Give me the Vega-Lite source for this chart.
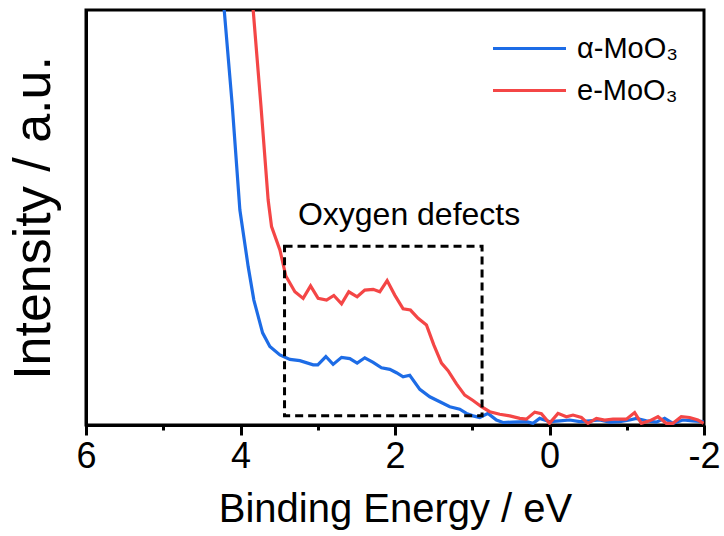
{
  "$schema": "https://vega.github.io/schema/vega-lite/v6.json",
  "width": 618,
  "height": 415,
  "autosize": {"type": "none"},
  "padding": {"left": 86, "top": 10, "right": 20, "bottom": 111},
  "background": "white",
  "config": {
    "view": {"stroke": "black", "strokeWidth": 3},
    "font": "Liberation Sans"
  },
  "datasets": {
    "spectra": [
      {"E": 4.255, "I": 111, "sample": "α-MoO₃"},
      {"E": 4.211, "I": 100, "sample": "α-MoO₃"},
      {"E": 4.107, "I": 77.1, "sample": "α-MoO₃"},
      {"E": 4.008, "I": 51.8, "sample": "α-MoO₃"},
      {"E": 3.900, "I": 38.1, "sample": "α-MoO₃"},
      {"E": 3.827, "I": 30.1, "sample": "α-MoO₃"},
      {"E": 3.714, "I": 22.2, "sample": "α-MoO₃"},
      {"E": 3.620, "I": 18.9, "sample": "α-MoO₃"},
      {"E": 3.490, "I": 16.9, "sample": "α-MoO₃"},
      {"E": 3.361, "I": 15.8, "sample": "α-MoO₃"},
      {"E": 3.232, "I": 15.5, "sample": "α-MoO₃"},
      {"E": 3.059, "I": 14.5, "sample": "α-MoO₃"},
      {"E": 2.999, "I": 14.5, "sample": "α-MoO₃"},
      {"E": 2.895, "I": 16.5, "sample": "α-MoO₃"},
      {"E": 2.801, "I": 14.6, "sample": "α-MoO₃"},
      {"E": 2.692, "I": 16.3, "sample": "α-MoO₃"},
      {"E": 2.585, "I": 16.0, "sample": "α-MoO₃"},
      {"E": 2.490, "I": 14.9, "sample": "α-MoO₃"},
      {"E": 2.391, "I": 16.2, "sample": "α-MoO₃"},
      {"E": 2.283, "I": 15.1, "sample": "α-MoO₃"},
      {"E": 2.175, "I": 13.8, "sample": "α-MoO₃"},
      {"E": 2.067, "I": 13.4, "sample": "α-MoO₃"},
      {"E": 1.981, "I": 12.6, "sample": "α-MoO₃"},
      {"E": 1.895, "I": 11.6, "sample": "α-MoO₃"},
      {"E": 1.809, "I": 12.0, "sample": "α-MoO₃"},
      {"E": 1.679, "I": 8.6, "sample": "α-MoO₃"},
      {"E": 1.550, "I": 6.8, "sample": "α-MoO₃"},
      {"E": 1.420, "I": 5.6, "sample": "α-MoO₃"},
      {"E": 1.291, "I": 4.4, "sample": "α-MoO₃"},
      {"E": 1.162, "I": 3.8, "sample": "α-MoO₃"},
      {"E": 1.075, "I": 2.8, "sample": "α-MoO₃"},
      {"E": 0.990, "I": 2.2, "sample": "α-MoO₃"},
      {"E": 0.903, "I": 1.8, "sample": "α-MoO₃"},
      {"E": 0.796, "I": 2.8, "sample": "α-MoO₃"},
      {"E": 0.687, "I": 1.2, "sample": "α-MoO₃"},
      {"E": 0.602, "I": 0.6, "sample": "α-MoO₃"},
      {"E": 0.476, "I": 0.7, "sample": "α-MoO₃"},
      {"E": 0.299, "I": 0.8, "sample": "α-MoO₃"},
      {"E": 0.213, "I": 0.4, "sample": "α-MoO₃"},
      {"E": 0.127, "I": 1.6, "sample": "α-MoO₃"},
      {"E": -0.003, "I": 0.8, "sample": "α-MoO₃"},
      {"E": -0.132, "I": 1.0, "sample": "α-MoO₃"},
      {"E": -0.261, "I": 1.2, "sample": "α-MoO₃"},
      {"E": -0.391, "I": 0.8, "sample": "α-MoO₃"},
      {"E": -0.520, "I": 1.0, "sample": "α-MoO₃"},
      {"E": -0.649, "I": 1.2, "sample": "α-MoO₃"},
      {"E": -0.779, "I": 0.7, "sample": "α-MoO₃"},
      {"E": -0.908, "I": 0.8, "sample": "α-MoO₃"},
      {"E": -1.037, "I": 1.2, "sample": "α-MoO₃"},
      {"E": -1.124, "I": 1.6, "sample": "α-MoO₃"},
      {"E": -1.254, "I": 1.0, "sample": "α-MoO₃"},
      {"E": -1.383, "I": 0.7, "sample": "α-MoO₃"},
      {"E": -1.490, "I": 1.6, "sample": "α-MoO₃"},
      {"E": -1.598, "I": 0.4, "sample": "α-MoO₃"},
      {"E": -1.727, "I": 1.2, "sample": "α-MoO₃"},
      {"E": -1.856, "I": 1.0, "sample": "α-MoO₃"},
      {"E": -1.995, "I": 0.8, "sample": "α-MoO₃"},
      {"E": 3.877, "I": 111, "sample": "e-MoO₃"},
      {"E": 3.836, "I": 100, "sample": "e-MoO₃"},
      {"E": 3.736, "I": 77.1, "sample": "e-MoO₃"},
      {"E": 3.642, "I": 54.2, "sample": "e-MoO₃"},
      {"E": 3.598, "I": 47.8, "sample": "e-MoO₃"},
      {"E": 3.490, "I": 42.2, "sample": "e-MoO₃"},
      {"E": 3.413, "I": 35.9, "sample": "e-MoO₃"},
      {"E": 3.296, "I": 32.1, "sample": "e-MoO₃"},
      {"E": 3.189, "I": 30.5, "sample": "e-MoO₃"},
      {"E": 3.093, "I": 33.5, "sample": "e-MoO₃"},
      {"E": 2.995, "I": 30.5, "sample": "e-MoO₃"},
      {"E": 2.886, "I": 30.1, "sample": "e-MoO₃"},
      {"E": 2.792, "I": 31.2, "sample": "e-MoO₃"},
      {"E": 2.692, "I": 29.2, "sample": "e-MoO₃"},
      {"E": 2.598, "I": 32.1, "sample": "e-MoO₃"},
      {"E": 2.490, "I": 30.9, "sample": "e-MoO₃"},
      {"E": 2.391, "I": 32.5, "sample": "e-MoO₃"},
      {"E": 2.283, "I": 32.7, "sample": "e-MoO₃"},
      {"E": 2.197, "I": 32.1, "sample": "e-MoO₃"},
      {"E": 2.102, "I": 34.8, "sample": "e-MoO₃"},
      {"E": 2.003, "I": 31.3, "sample": "e-MoO₃"},
      {"E": 1.895, "I": 28.0, "sample": "e-MoO₃"},
      {"E": 1.800, "I": 27.7, "sample": "e-MoO₃"},
      {"E": 1.701, "I": 25.7, "sample": "e-MoO₃"},
      {"E": 1.593, "I": 24.1, "sample": "e-MoO₃"},
      {"E": 1.498, "I": 19.3, "sample": "e-MoO₃"},
      {"E": 1.398, "I": 14.9, "sample": "e-MoO₃"},
      {"E": 1.313, "I": 13.1, "sample": "e-MoO₃"},
      {"E": 1.204, "I": 9.9, "sample": "e-MoO₃"},
      {"E": 1.097, "I": 7.2, "sample": "e-MoO₃"},
      {"E": 0.990, "I": 5.9, "sample": "e-MoO₃"},
      {"E": 0.881, "I": 4.4, "sample": "e-MoO₃"},
      {"E": 0.774, "I": 3.2, "sample": "e-MoO₃"},
      {"E": 0.644, "I": 2.6, "sample": "e-MoO₃"},
      {"E": 0.515, "I": 2.2, "sample": "e-MoO₃"},
      {"E": 0.385, "I": 1.6, "sample": "e-MoO₃"},
      {"E": 0.299, "I": 1.4, "sample": "e-MoO₃"},
      {"E": 0.191, "I": 3.1, "sample": "e-MoO₃"},
      {"E": 0.105, "I": 2.7, "sample": "e-MoO₃"},
      {"E": 0.0, "I": 0.4, "sample": "e-MoO₃"},
      {"E": -0.110, "I": 2.8, "sample": "e-MoO₃"},
      {"E": -0.219, "I": 2.0, "sample": "e-MoO₃"},
      {"E": -0.304, "I": 2.4, "sample": "e-MoO₃"},
      {"E": -0.413, "I": 1.8, "sample": "e-MoO₃"},
      {"E": -0.498, "I": 0.4, "sample": "e-MoO₃"},
      {"E": -0.607, "I": 1.6, "sample": "e-MoO₃"},
      {"E": -0.714, "I": 1.2, "sample": "e-MoO₃"},
      {"E": -0.822, "I": 1.4, "sample": "e-MoO₃"},
      {"E": -0.995, "I": 1.4, "sample": "e-MoO₃"},
      {"E": -1.102, "I": 3.0, "sample": "e-MoO₃"},
      {"E": -1.189, "I": 0.4, "sample": "e-MoO₃"},
      {"E": -1.296, "I": 1.0, "sample": "e-MoO₃"},
      {"E": -1.404, "I": 2.0, "sample": "e-MoO₃"},
      {"E": -1.512, "I": 0.4, "sample": "e-MoO₃"},
      {"E": -1.598, "I": 0.4, "sample": "e-MoO₃"},
      {"E": -1.706, "I": 2.0, "sample": "e-MoO₃"},
      {"E": -1.814, "I": 1.8, "sample": "e-MoO₃"},
      {"E": -1.921, "I": 1.2, "sample": "e-MoO₃"},
      {"E": -1.995, "I": 0.4, "sample": "e-MoO₃"}
    ],
    "box": [{"E1": 3.43, "E2": 0.873, "I1": 2.24, "I2": 43.1}],
    "note": [{"E": 3.257, "I": 48.2, "label": "Oxygen defects"}]
  },
  "layer": [
    {
      "data": {"name": "spectra"},
      "mark": {"type": "line", "strokeWidth": 3.2, "clip": true},
      "encoding": {
        "x": {
          "field": "E", "type": "quantitative",
          "scale": {"domain": [6, -2], "nice": false, "zero": false},
          "axis": {
            "values": [6, 5, 4, 3, 2, 1, 0, -1, -2],
            "labelExpr": "datum.value % 2 === 0 ? '' + datum.value : ''",
            "tickSize": {"condition": {"test": "datum.value % 2 === 0", "value": 10}, "value": 5},
            "tickWidth": 3, "tickColor": "black",
            "domainColor": "black", "domainWidth": 3,
            "labelFontSize": 36, "labelColor": "black", "labelPadding": 4,
            "labelFlush": false, "labelOverlap": false, "grid": false,
            "title": "Binding Energy / eV", "titleFontSize": 40, "titleFontWeight": "normal",
            "titleColor": "black", "titlePadding": 15
          }
        },
        "y": {
          "field": "I", "type": "quantitative",
          "scale": {"domain": [0, 100], "nice": false, "zero": false},
          "axis": {
            "ticks": false, "labels": false, "grid": false,
            "domainColor": "black", "domainWidth": 3,
            "title": "Intensity / a.u.", "titleFontSize": 52, "titleFontWeight": "normal",
            "titleColor": "black", "titlePadding": 26
          }
        },
        "color": {
          "field": "sample", "type": "nominal",
          "scale": {"domain": ["α-MoO₃", "e-MoO₃"], "range": ["#1d6ce6", "#f44646"]},
          "legend": {
            "title": null, "orient": "none", "legendX": 429, "legendY": 24, "padding": 0,
            "symbolType": "M-3,0H3", "symbolSize": 592, "symbolStrokeWidth": 3,
            "labelOffset": 33, "labelFontSize": 29, "labelColor": "black", "rowPadding": 12
          }
        }
      }
    },
    {
      "data": {"name": "box"},
      "mark": {"type": "rect", "filled": false, "stroke": "black", "strokeWidth": 3, "strokeDash": [8, 5]},
      "encoding": {
        "x": {"field": "E1", "type": "quantitative"},
        "x2": {"field": "E2"},
        "y": {"field": "I1", "type": "quantitative"},
        "y2": {"field": "I2"}
      }
    },
    {
      "data": {"name": "note"},
      "mark": {"type": "text", "align": "left", "baseline": "alphabetic", "fontSize": 32, "color": "black"},
      "encoding": {
        "x": {"field": "E", "type": "quantitative"},
        "y": {"field": "I", "type": "quantitative"},
        "text": {"field": "label"}
      }
    }
  ]
}
